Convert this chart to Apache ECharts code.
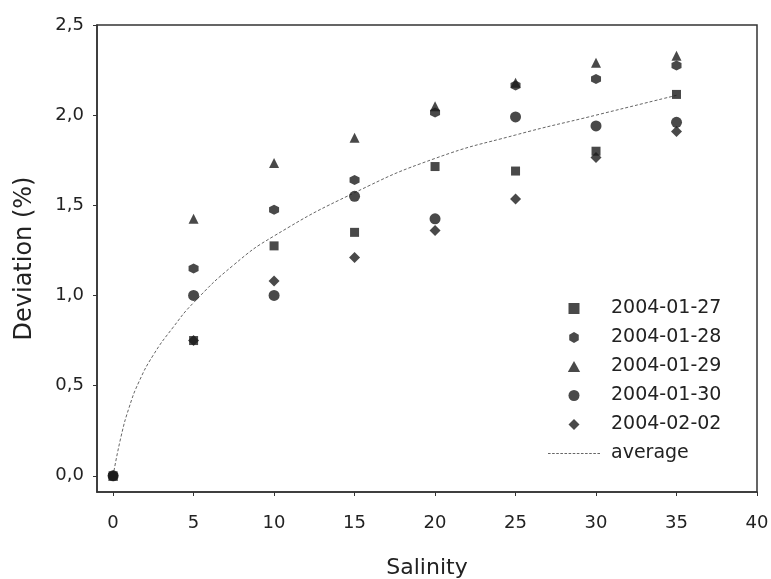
<!DOCTYPE html>
<html>
<head>
<meta charset="utf-8">
<script src="https://cdn.jsdelivr.net/npm/echarts@6/dist/echarts.min.js"></script>
<style>
  html, body { margin: 0; padding: 0; background: #fff; }
  #chart { width: 771px; height: 579px; }
</style>
</head>
<body>
<div id="chart"></div>
<script>
// Data
const salinity = [0, 5, 10, 15, 20, 25, 30, 35];
const d20040127 = [0, 0.75, 1.275, 1.35, 1.715, 1.69, 1.80, 2.115];
const d20040128 = [0, 1.15, 1.475, 1.64, 2.015, 2.165, 2.20, 2.275];
const d20040129 = [0, 1.425, 1.735, 1.875, 2.05, 2.18, 2.29, 2.33];
const d20040130 = [0, 1.00, 1.00, 1.55, 1.425, 1.99, 1.94, 1.96];
const d20040202 = [0, 0.75, 1.08, 1.21, 1.36, 1.535, 1.765, 1.91];

const avgX = [0, 0.5, 1, 1.6, 2.5, 3.7, 5, 7.5, 10, 15, 20, 25, 30, 35];
const avgY = [0, 0.22, 0.38, 0.52, 0.67, 0.82, 0.96, 1.17, 1.33, 1.57, 1.76, 1.89, 2.0, 2.11];

const xTicks = [0, 5, 10, 15, 20, 25, 30, 35, 40];
const yTicks = [0, 0.5, 1.0, 1.5, 2.0, 2.5];

const FONT = "'DejaVu Sans', Verdana, sans-serif";
const INK = '#1c1c1c';

// marker shapes (paths keep their aspect in the legend)
const SQUARE = 'path://M0,0 L1,0 L1,1 L0,1 Z';
const HEX = 'path://M0,-1 L0.866,-0.5 L0.866,0.5 L0,1 L-0.866,0.5 L-0.866,-0.5 Z';
const TRI = 'path://M0,-1 L0.95,0.7 L-0.95,0.7 Z';
const DIAMOND = 'path://M0,-1 L1,0 L0,1 L-1,0 Z';

// dotted line icon for the "average" legend entry
let dash = '';
for (let i = 0; i < 13; i++) {
    dash += 'M' + (i * 4) + ',0 h2.5 v1 h-2.5 Z ';
}
const DASH_ICON = 'path://' + dash;

function pairs(xs, ys) {
    return xs.map((x, i) => [x, ys[i]]);
}

function scatter(name, values, symbol, size) {
    return {
        name: name,
        type: 'scatter',
        data: pairs(salinity, values),
        symbol: symbol,
        symbolSize: size,
        itemStyle: { color: INK },
        z: 3
    };
}

const chart = echarts.init(document.getElementById('chart'));

const option = {
    animation: false,
    backgroundColor: '#fff',
    textStyle: { fontFamily: FONT },
    grid: {
        left: 97,
        right: 14,
        top: 25,
        bottom: 87,
        outerBoundsMode: 'none',
        show: true,
        borderColor: '#333',
        borderWidth: 1.5
    },
    legend: {
        orient: 'vertical',
        left: 543,
        top: 294,
        itemWidth: 52,
        itemHeight: 11,
        itemGap: 10,
        textStyle: { fontFamily: FONT, fontSize: 19, color: '#222', padding: [0, 0, 0, 6] },
        data: [
            { name: '2004-01-27' },
            { name: '2004-01-28' },
            { name: '2004-01-29' },
            { name: '2004-01-30' },
            { name: '2004-02-02' },
            { name: 'average', icon: DASH_ICON }
        ]
    },
    xAxis: {
        type: 'value',
        min: -1,
        max: 40,
        name: 'Salinity',
        nameLocation: 'middle',
        nameGap: 65,
        nameTextStyle: { fontFamily: FONT, fontSize: 22, color: '#222' },
        splitLine: { show: false },
        axisLine: { onZero: false, lineStyle: { color: '#333', width: 1.5 } },
        axisTick: { show: true, length: 4, customValues: xTicks, lineStyle: { color: '#333' } },
        axisLabel: {
            customValues: xTicks,
            margin: 22,
            fontFamily: FONT,
            fontSize: 18,
            color: '#222'
        }
    },
    yAxis: {
        type: 'value',
        min: -0.09,
        max: 2.5,
        name: 'Deviation (%)',
        nameLocation: 'middle',
        nameGap: 60,
        nameTextStyle: { fontFamily: FONT, fontSize: 24, color: '#222' },
        splitLine: { show: false },
        axisLine: { onZero: false, lineStyle: { color: '#333', width: 1.5 } },
        axisTick: { show: true, length: 4, customValues: yTicks, lineStyle: { color: '#333' } },
        axisLabel: {
            customValues: yTicks,
            margin: 13,
            fontFamily: FONT,
            fontSize: 18,
            color: '#222',
            formatter: v => v.toFixed(1).replace('.', ',')
        }
    },
    series: [
        {
            name: 'average',
            type: 'line',
            data: pairs(avgX, avgY),
            smooth: 0.5,
            symbol: 'none',
            lineStyle: { color: '#666', width: 1, type: [3, 2] },
            itemStyle: { color: '#666' },
            z: 2
        },
        scatter('2004-01-27', d20040127, SQUARE, 9),
        scatter('2004-01-28', d20040128, HEX, 10),
        scatter('2004-01-29', d20040129, TRI, 10),
        scatter('2004-01-30', d20040130, 'circle', 11),
        scatter('2004-02-02', d20040202, DIAMOND, 11)
    ]
};

chart.setOption(option);
</script>
</body>
</html>
